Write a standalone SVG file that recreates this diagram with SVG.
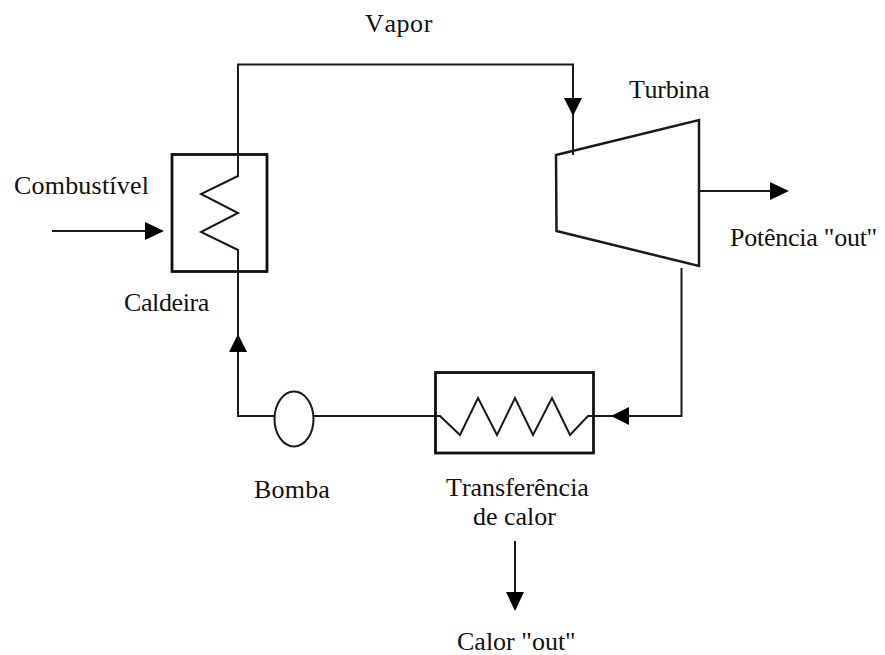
<svg xmlns="http://www.w3.org/2000/svg" width="885" height="655" viewBox="0 0 885 655">
<style>
.l{fill:none;stroke:#1a1a1a;stroke-width:2;stroke-linejoin:miter}
.b{fill:none;stroke:#111;stroke-width:2.800}
.h{fill:#000;stroke:none}
text{font-family:"Liberation Serif","Times New Roman",serif;font-size:26px;fill:#111;font-kerning:none}
</style>
<rect width="885" height="655" fill="#fff"/>
<g id="connectors">
<path class="l" d="M238 154V64.500H573V155"/>
<polygon class="h" points="564,98 582,98 573,116"/>
<path class="l" d="M699 191H772"/>
<polygon class="h" points="770,182 770,200 789,191"/>
<path class="l" d="M681.500 268V416H594"/>
<polygon class="h" points="629,407 629,425 611,416"/>
<path class="l" d="M435 416H314M274 416H238V340"/>
<polygon class="h" points="229,352 247,352 238,334"/>
<path class="l" d="M238 272V340"/>
<path class="l" d="M52 231H150"/>
<polygon class="h" points="145,222 145,240 164,231"/>
<path class="l" d="M515 541V595"/>
<polygon class="h" points="506,592 524,592 515,611"/>
</g>
<g id="caldeira">
<rect class="b" x="172" y="154.500" width="95" height="117"/>
<path class="l" d="M238 154V176L201 194L238 213L201 232L238 250V272"/>
<text x="124" y="311" letter-spacing="-0.4">Caldeira</text>
</g>
<g id="turbina">
<polygon class="l" points="556,155 699,120 699,266 556.500,231" style="stroke-width:2.500"/>
<text x="629" y="98" letter-spacing="-0.3">Turbina</text>
</g>
<g id="condensador">
<rect class="b" x="435.500" y="372.500" width="158" height="80.500"/>
<path class="l" d="M435 416H440L460 435L478 398L497 435L515 398L533 435L552 398L570 435L588 416H594"/>
<text x="446" y="496">Transferência</text>
<text x="473" y="525">de calor</text>
</g>
<g id="bomba">
<ellipse class="l" cx="294" cy="419" rx="19.500" ry="27.500"/>
<text x="254" y="498" letter-spacing="0.2">Bomba</text>
</g>
<g id="labels">
<text x="365" y="32" letter-spacing="0.6">Vapor</text>
<text x="14" y="194" letter-spacing="0.2">Combustível</text>
<text x="730" y="246" letter-spacing="-0.25">Potência "out"</text>
<text x="457" y="650">Calor "out"</text>
</g>
</svg>
